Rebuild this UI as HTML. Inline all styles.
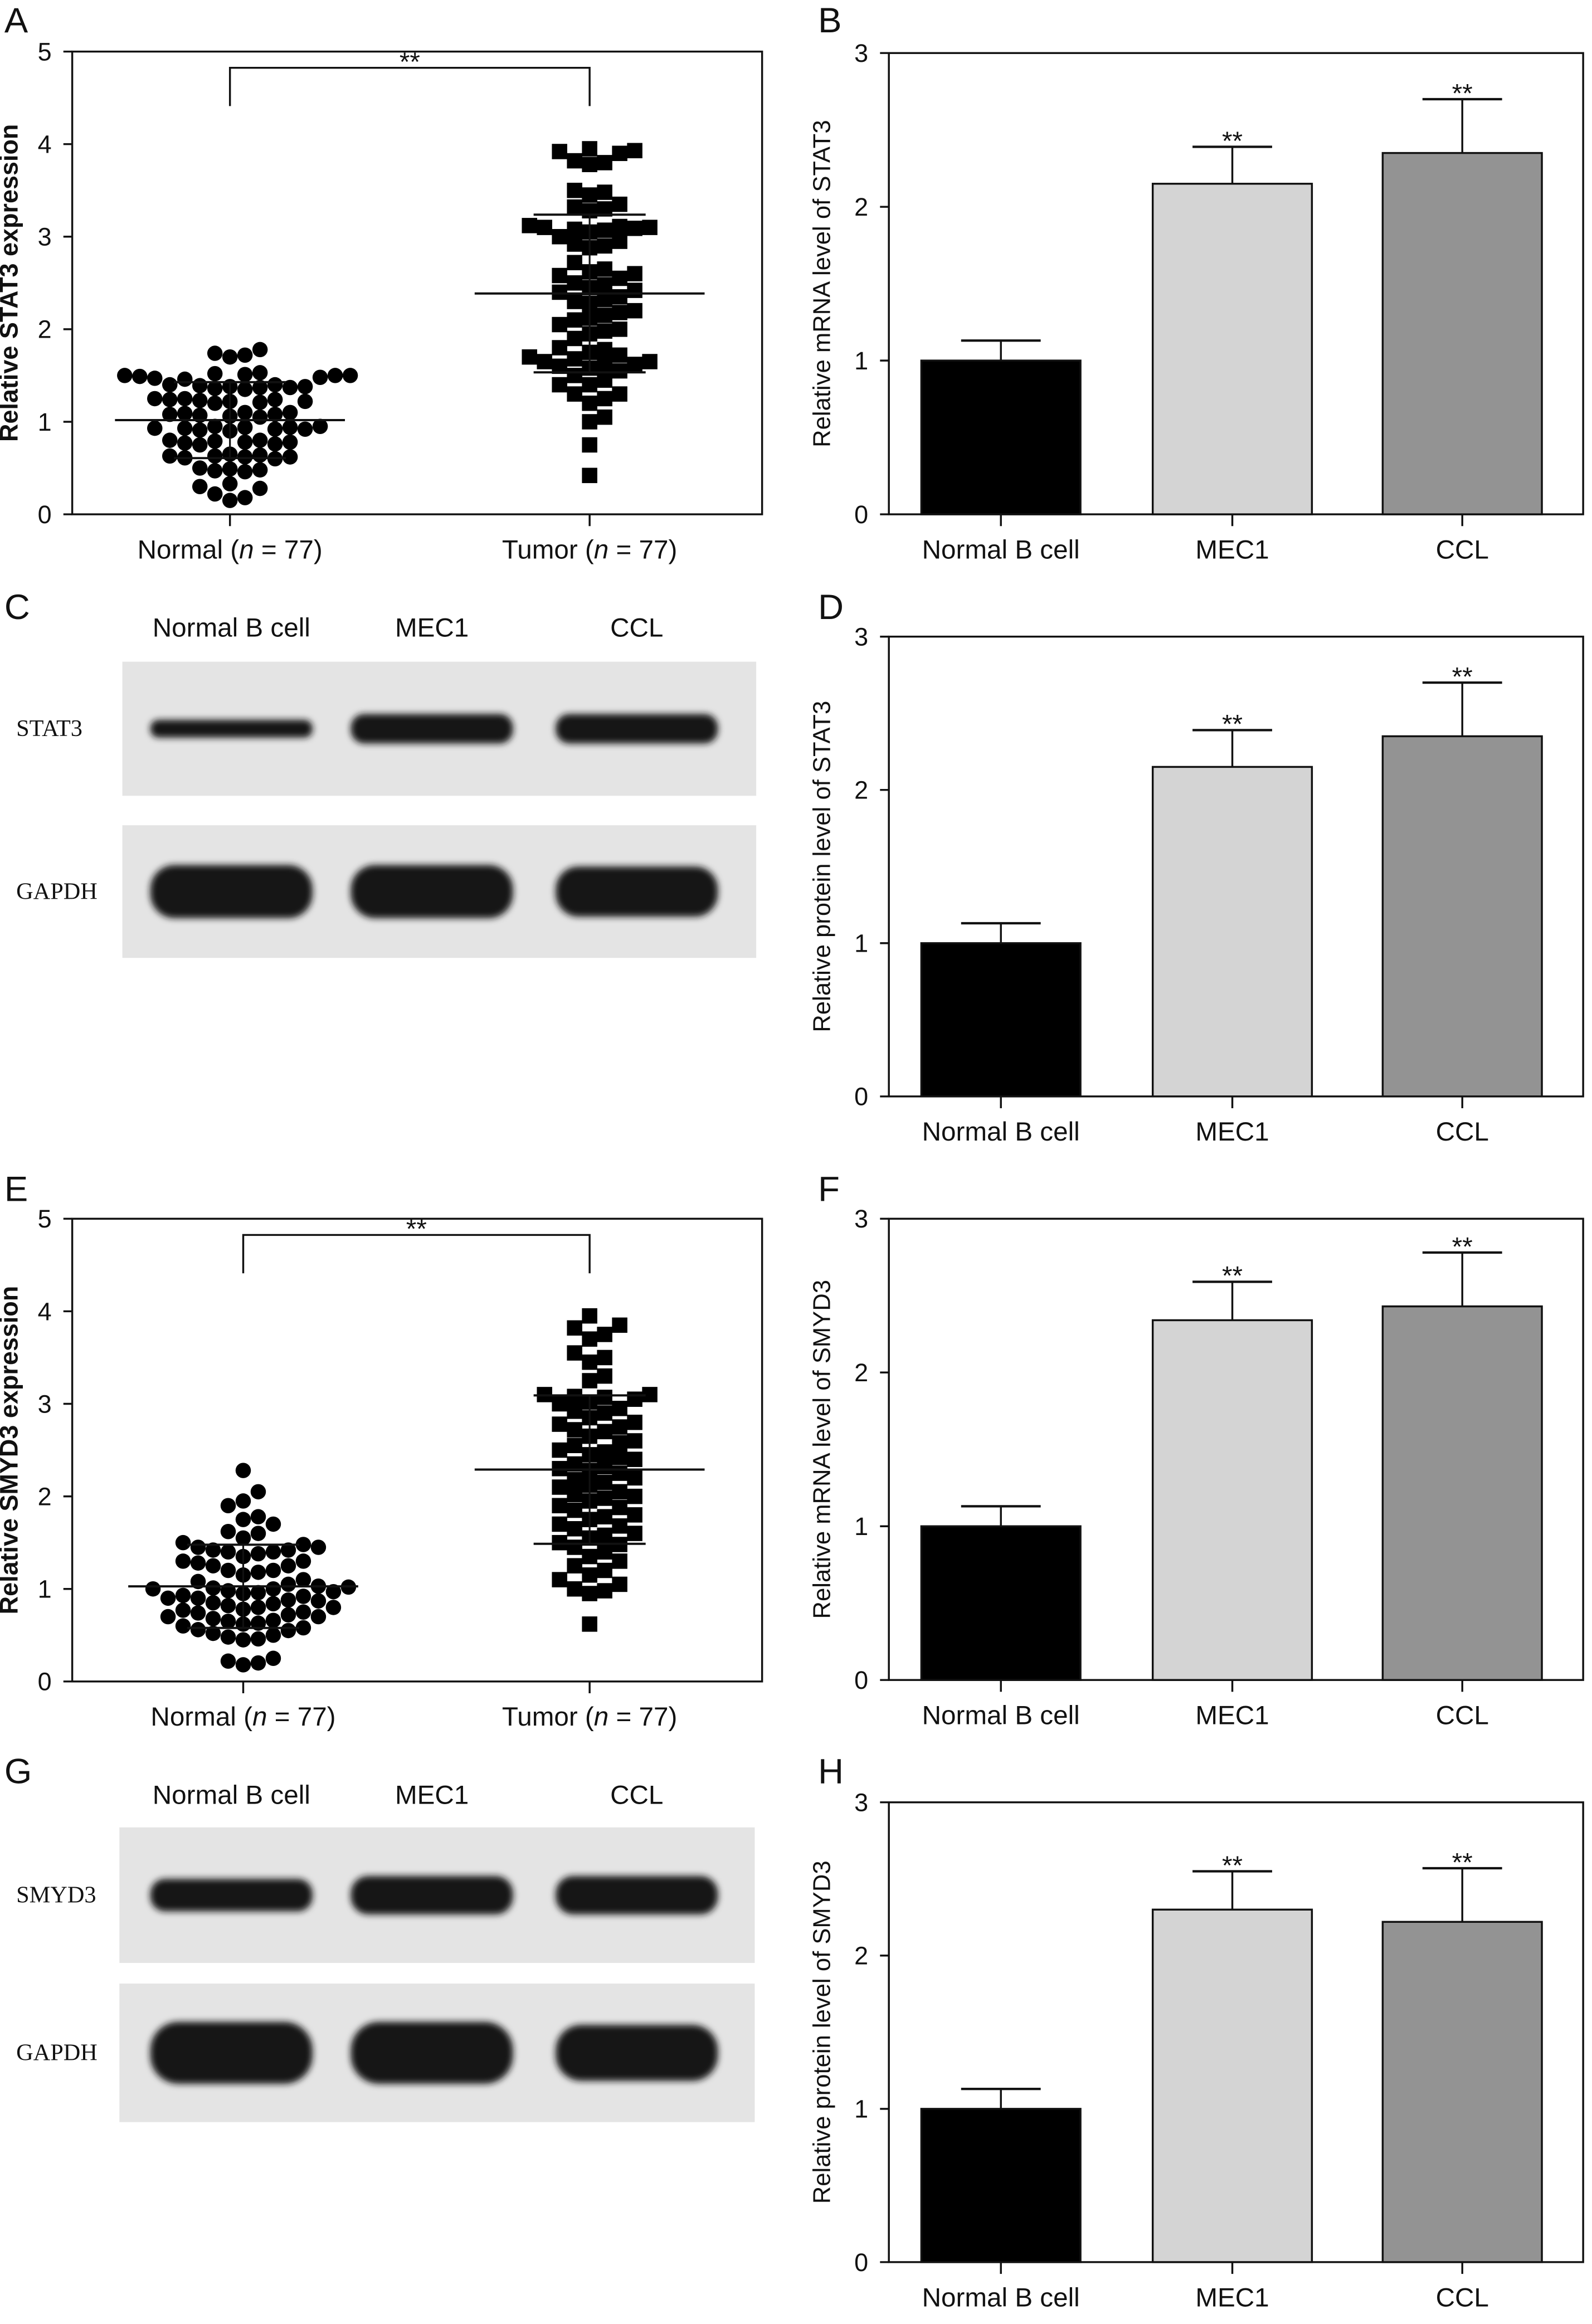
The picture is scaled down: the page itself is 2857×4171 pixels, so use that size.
<!DOCTYPE html>
<html><head><meta charset="utf-8">
<style>
html,body{margin:0;padding:0;background:#fff;}
svg{display:block;}
text{font-family:"Liberation Sans Narrow","Liberation Sans",sans-serif;fill:#111;}
.serif{font-family:"Liberation Serif",serif;}
</style></head>
<body>
<svg id="fig" width="2857" height="4171" viewBox="0 0 1080 1577" preserveAspectRatio="none" xmlns="http://www.w3.org/2000/svg">
<defs><filter id="blur" x="-20%" y="-50%" width="140%" height="200%"><feGaussianBlur stdDeviation="2.2"/></filter></defs>
<g id="root"></g>
</svg>
<script>
// ---- Data ----
const scatterCats = ["Normal (n = 77)", "Tumor (n = 77)"];
const normalA = [1.52,1.5,1.48,1.51,1.49,1.5,1.53,1.47,1.5,1.46,1.78,1.74,1.7,1.72,1.38,1.37,1.4,1.36,1.39,1.35,1.38,1.37,1.4,1.25,1.22,1.24,1.2,1.23,1.21,1.25,1.22,1.24,1.1,1.08,1.07,1.09,1.06,1.1,1.08,1.05,0.95,0.93,0.92,0.94,0.9,0.91,0.95,0.93,0.92,0.94,0.8,0.78,0.77,0.79,0.76,0.8,0.78,0.75,0.65,0.63,0.62,0.64,0.6,0.61,0.63,0.62,0.5,0.48,0.47,0.46,0.49,0.33,0.3,0.28,0.18,0.22,0.15];
const tumorA = [3.95,3.93,3.9,3.92,3.8,3.78,3.82,1.65,1.7,1.62,1.68,3.5,3.45,3.48,3.3,3.32,3.28,3.35,3.1,3.08,3.12,3.05,3.1,3.07,3.09,3.11,3.0,2.95,2.9,2.92,2.88,1.4,1.3,1.25,2.72,2.6,2.65,2.62,2.58,2.55,2.5,2.45,2.48,2.42,2.4,2.35,2.3,2.32,2.28,2.2,2.15,2.18,2.12,2.1,2.05,2.0,1.95,1.98,1.9,1.8,1.75,1.78,1.72,1.65,1.62,1.6,1.58,1.55,1.5,1.4,1.3,1.2,1.05,1.0,0.75,0.42,1.45];
const normalE = [2.28,2.05,1.95,1.9,1.78,1.75,1.7,1.62,1.6,1.55,1.5,1.48,1.45,1.42,1.4,1.35,1.3,1.28,1.25,1.2,1.18,1.15,1.1,1.08,1.05,1.02,1.0,1.0,0.98,0.97,0.96,0.95,0.93,0.92,0.9,0.9,0.88,0.87,0.85,0.84,0.82,0.8,0.8,0.78,0.77,0.75,0.74,0.72,0.7,0.7,0.68,0.66,0.65,0.63,0.62,0.6,0.58,0.56,0.55,0.52,0.5,0.48,0.46,0.45,1.45,1.42,1.4,1.38,1.3,1.25,1.2,0.25,0.22,0.2,0.18,1.03,1.01];
const tumorE = [3.95,3.85,3.82,3.75,3.7,3.55,3.5,3.45,3.3,3.25,3.1,3.08,3.05,3.1,3.07,3.02,3.0,2.95,2.92,2.9,2.85,2.8,2.78,2.75,2.72,2.7,2.65,2.6,2.58,2.55,2.5,2.48,2.45,2.42,2.4,2.35,2.32,2.3,2.28,2.25,2.2,2.18,2.15,2.12,2.1,2.05,2.02,2.0,1.98,1.95,1.9,1.88,1.85,1.8,1.78,1.75,1.7,1.68,1.65,1.6,1.58,1.55,1.5,1.48,1.45,1.4,1.35,1.3,1.25,1.2,1.15,1.1,1.05,1.0,0.98,0.95,0.62];
const scatterTicks = [0,1,2,3,4,5];

const barCats = ["Normal B cell","MEC1","CCL"];
const barTicks = [0,1,2,3];
const barsB = [1.0,2.15,2.35];  const errB = [0.13,0.24,0.35];
const barsD = [1.0,2.15,2.35];  const errD = [0.13,0.24,0.35];
const barsF = [1.0,2.34,2.43];  const errF = [0.13,0.25,0.35];
const barsH = [1.0,2.3,2.22];   const errH = [0.13,0.25,0.35];
const sigB = ["","**","**"];

const NS = "http://www.w3.org/2000/svg";
const root = document.getElementById("root");
function mk(tag, attrs, parent, txt){
  const e = document.createElementNS(NS, tag);
  for (const k in attrs) e.setAttribute(k, attrs[k]);
  if (txt !== undefined) e.textContent = txt;
  (parent||root).appendChild(e);
  return e;
}
function line(x1,y1,x2,y2,g,w){ return mk("line",{x1,y1,x2,y2,stroke:"#111","stroke-width":w||1.3},g); }

function panelLetter(t,x,y){
  const e = mk("text",{x,y,"font-size":24,"font-family":"Liberation Sans, sans-serif"},root,t);
  
  
}

function scatterPanel(id, L, R, T, B, ylab, nVals, tVals, cx1, cx2){
  const g = mk("g",{});
  
  
  const ys = v => B - (v/5)*(B-T);
  const fr = mk("rect",{x:L,y:T,width:R-L,height:B-T,fill:"none",stroke:"#111","stroke-width":1.3},g);
  
  
  scatterTicks.forEach(t=>{
    line(L-6,ys(t),L,ys(t),g);
    const tx = mk("text",{x:L-14,y:ys(t)+6,"text-anchor":"end","font-size":17},g,String(t));
    
    
  });
  const yl = mk("text",{x:0,y:0,"text-anchor":"middle","font-size":17,"font-weight":"bold",transform:`translate(${L-37},${(T+B)/2}) rotate(-90)`,"font-family":"Liberation Sans, sans-serif"},g,ylab);
  
  
  [cx1,cx2].forEach((cx,i)=>{
    line(cx,B,cx,B+8,g);
    const lt = mk("text",{x:cx,y:B+30,"text-anchor":"middle","font-size":18},g);
    
    
    const parts = scatterCats[i].split("n");
    mk("tspan",{},lt,parts[0]);
    mk("tspan",{"font-style":"italic"},lt,"n");
    mk("tspan",{},lt,parts[1]);
  });
  const by = T+11;
  const br = mk("path",{d:`M${cx1},${T+37} V${by} H${cx2} V${T+37}`,fill:"none",stroke:"#111","stroke-width":1.3},g);
  
  
  const st = mk("text",{x:(cx1+cx2)/2,y:T+13,"text-anchor":"middle","font-size":18},g,"**");
  
  

  function swarm(vals, cx, shape, nm){
    const r = 5.2, d = 10.2;
    const placed = [];
    const sorted = vals.slice().sort((a,b)=>a-b);
    sorted.forEach(v=>{
      const y = ys(v);
      let off = 0;
      for (let k=0;k<40;k++){
        const cand = k===0?0:(k%2? Math.ceil(k/2)*d : -Math.ceil(k/2)*d);
        if (placed.every(p=> Math.hypot(p[0]-(cx+cand), p[1]-y) >= 2*r-0.5)){ off=cand; break; }
      }
      placed.push([cx+off,y]);
      let m;
      if (shape==="c") m = mk("circle",{cx:cx+off,cy:y,r:r,fill:"#000"},g);
      else m = mk("rect",{x:cx+off-r,y:y-r,width:2*r,height:2*r,fill:"#000"},g);
      
      
    });
    const mean = vals.reduce((a,b)=>a+b,0)/vals.length;
    const sd = Math.sqrt(vals.reduce((a,b)=>a+(b-mean)*(b-mean),0)/(vals.length-1));
    const ml = line(cx-78,ys(mean),cx+78,ys(mean),g,1.5);
    
    
    [mean+sd,mean-sd].forEach(s=>{
      const sl = line(cx-38,ys(s),cx+38,ys(s),g,1.5);
      
      
    });
    line(cx,ys(mean+sd),cx,ys(mean-sd),g,1.2);
  }
  swarm(nVals,cx1,"c","normal-point");
  swarm(tVals,cx2,"s","tumor-point");
}

function barPanel(id, L, R, T, B, ylab, vals, errs){
  const g = mk("g",{});
  
  
  const ys = v => B - (v/3)*(B-T);
  const fr = mk("rect",{x:L,y:T,width:R-L,height:B-T,fill:"none",stroke:"#111","stroke-width":1.3},g);
  
  
  barTicks.forEach(t=>{
    line(L-6,ys(t),L,ys(t),g);
    const tx = mk("text",{x:L-14,y:ys(t)+6,"text-anchor":"end","font-size":17},g,String(t));
    
    
  });
  const yl = mk("text",{x:0,y:0,"text-anchor":"middle","font-size":16.5,transform:`translate(${L-40},${(T+B)/2}) rotate(-90)`,"font-family":"Liberation Sans, sans-serif"},g,ylab);
  
  
  const fills = ["#000","#d4d4d4","#939393"];
  const centers = [679,836,992];
  const bw = 108;
  vals.forEach((v,i)=>{
    const cx = centers[i];
    const top = ys(v+errs[i]);
    line(cx,ys(v),cx,top,g,1.3);
    line(cx-27,top,cx+27,top,g,1.6);
    const b = mk("rect",{x:cx-bw/2,y:ys(v),width:bw,height:B-ys(v),fill:fills[i],stroke:"#111","stroke-width":1.3},g);
    
    
    if (sigB[i]){
      const s = mk("text",{x:cx,y:top+2,"text-anchor":"middle","font-size":18},g,sigB[i]);
      
      
    }
    line(cx,B,cx,B+8,g);
    const lt = mk("text",{x:cx,y:B+30,"text-anchor":"middle","font-size":18},g,barCats[i]);
    
    
  });
}

function blot(id, L, R, y1, h1, y2, h2, lab1, hdrY, b1, b2){
  const g = mk("g",{});
  
  
  const cs = [157,293,432];
  barCats.forEach((c,i)=>{
    const t = mk("text",{x:cs[i],y:hdrY,"text-anchor":"middle","font-size":18},g,c);
    
    
  });
  [[y1,h1,lab1,b1],[y2,h2,"GAPDH",b2]].forEach(([y,h,lab,bands])=>{
    const r = mk("rect",{x:L,y:y,width:R-L,height:h,fill:"#e4e4e4"},g);
    
    
    const lt = mk("text",{x:11,y:y+h/2+5,"font-size":16,class:"serif"},g,lab);
    
    
    bands.forEach((bh,i)=>{
      const e = mk("rect",{x:cs[i]-55,y:y+h/2-bh/2,width:110,height:bh,rx:bh/2.2,fill:"#151515",filter:"url(#blur)"},g);
      
      
    });
  });
}

panelLetter("A",3,22); panelLetter("B",555,22);
panelLetter("C",3,420); panelLetter("D",555,420);
panelLetter("E",3,815); panelLetter("F",555,815);
panelLetter("G",3,1210); panelLetter("H",555,1210);

scatterPanel("a",49,517,35,349,"Relative STAT3 expression",normalA,tumorA,156,400);
scatterPanel("e",49,517,827,1141,"Relative SMYD3 expression",normalE,tumorE,165,400);
barPanel("b",603,1074,36,349,"Relative mRNA level of STAT3",barsB,errB);
barPanel("d",603,1074,432,744,"Relative protein level of STAT3",barsD,errD);
barPanel("f",603,1074,827,1140,"Relative mRNA level of SMYD3",barsF,errF);
barPanel("h",603,1074,1223,1535,"Relative protein level of SMYD3",barsH,errH);
blot("c",83,513,449,91,560,90,"STAT3",432,[12,20,20],[36,36,34]);
blot("g",81,512,1240,92,1346,94,"SMYD3",1224,[22,26,26],[42,42,38]);
</script>
</body></html>
